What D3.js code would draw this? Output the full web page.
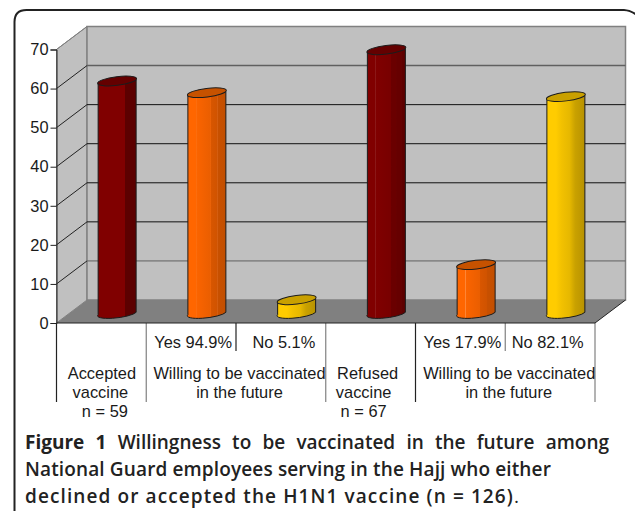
<!DOCTYPE html>
<html lang="en">

<head>
    <meta charset="UTF-8">
    <title>Figure 1</title>
    <script src="https://d3js.org/d3.v7.min.js"></script>
    <style type="text/css">
        body {
            margin: 0;
            background: #fff;
        }

        svg {
            display: block;
        }

        .lbl {
            font-family: "Liberation Sans", Arial, sans-serif;
            font-size: 16.4px;
            fill: #1a1a1a;
            text-anchor: middle;
        }

        .caption {
            font-family: "Open Sans", sans-serif;
            font-size: 19px;
            fill: #222;
        }
    </style>
</head>

<body>
    <div id="graph"></div>
</body>
<script>
    // values
    const categories = ["Accepted", "Yes", "No", "Refused", "Yes2", "No2"];
    const counts = [59, 56, 3, 67, 12, 55];
    const tickValues = [0, 10, 20, 30, 40, 50, 60, 70];
    const barKinds = ["red", "orange", "yellow", "red", "orange", "yellow"];

    const answerLabels = ["Yes 94.9%", "No 5.1%", "Yes 17.9%", "No 82.1%"];
    const answerCats = ["Yes", "No", "Yes2", "No2"];
    const groupLines = ["Willing to be vaccinated", "in the future"];
    const acceptedLines = ["Accepted", "vaccine", "n = 59"];
    const refusedLines = ["Refused", "vaccine", "n = 67"];
    const captionBold = "Figure 1";
    const captionLines = [
        "Willingness to be vaccinated in the future among",
        "National Guard employees serving in the Hajj who either",
        "declined or accepted the H1N1 vaccine (n = 126)"
    ];

    const width = 635, height = 511;
    const depthX = 30.5, depthY = 23;

    const svg = d3.select("#graph").append("svg")
        .attr("width", width)
        .attr("height", height);

    // outer frame, only left/top are visible, the rest runs off the page
    svg.append("path")
        .attr("d", "M14.5,520 V22 Q14.5,10 26.5,10 H624 Q632,10 640,18")
        .attr("fill", "none")
        .attr("stroke", "#222")
        .attr("stroke-width", 2);

    const xscale = d3.scaleBand().domain(categories).range([56.5, 595]);
    const yscale = d3.scaleLinear().domain([0, 70]).range([323, 49.5]);

    const x0 = xscale.range()[0], x1 = xscale.range()[1];
    const y0 = yscale(0), yTop = yscale(70);

    // walls and floor
    svg.append("polygon")
        .attr("points", [[x0, y0], [x0, yTop], [x0 + depthX, yTop - depthY], [x0 + depthX, y0 - depthY]].join(" "))
        .attr("fill", "#c0c0c0")
        .attr("stroke", "#808080");
    svg.append("rect")
        .attr("x", x0 + depthX)
        .attr("y", yTop - depthY)
        .attr("width", x1 - x0)
        .attr("height", y0 - yTop)
        .attr("fill", "#c0c0c0")
        .attr("stroke", "#808080")
        .attr("stroke-width", 1.5);
    svg.append("polygon")
        .attr("points", [[x0, y0], [x0 + depthX, y0 - depthY], [x1 + depthX, y0 - depthY], [x1, y0]].join(" "))
        .attr("fill", "#808080");

    // grid
    const grid = svg.selectAll(".grid")
        .data(tickValues.filter(d => d > 0 && d < 70))
        .enter().append("g")
        .attr("class", "grid");
    grid.append("line")
        .attr("x1", x0)
        .attr("x2", x0 + depthX)
        .attr("y1", d => yscale(d))
        .attr("y2", d => yscale(d) - depthY)
        .attr("stroke", "#222");
    grid.append("line")
        .attr("x1", x0 + depthX)
        .attr("x2", x1 + depthX)
        .attr("y1", d => yscale(d) - depthY)
        .attr("y2", d => yscale(d) - depthY)
        .attr("stroke", d => (d == 60 || d == 10) ? "#606060" : "#111")
        .attr("stroke-width", d => d == 60 ? 1.6 : 1);

    svg.append("line")
        .attr("x1", x0).attr("x2", x0 + depthX)
        .attr("y1", yTop).attr("y2", yTop - depthY)
        .attr("stroke", "#808080");

    // y axis
    const y_axis = d3.axisLeft(yscale).tickValues(tickValues).tickSize(6).tickPadding(2);
    const yG = svg.append("g")
        .attr("transform", "translate(" + x0 + ",0)")
        .call(y_axis);
    yG.select(".domain").attr("stroke", "#222");
    yG.selectAll(".tick line").attr("stroke", "#222");
    yG.selectAll(".tick text")
        .attr("font-family", "'Liberation Sans', Arial, sans-serif")
        .attr("font-size", 16.4)
        .attr("fill", "#1a1a1a");

    // cylinders, the hard stops are the facets of the original 3d bars
    const barColors = {
        red: { top: "#640000", stops: [["#800000", 0], ["#800000", .72], ["#5c0000", .72], ["#5c0000", 1]] },
        redFacet: { top: "#640000", stops: [["#800000", 0], ["#800000", .22], ["#963030", .23], ["#800000", .24], ["#780000", .62], ["#963030", .63], ["#6a0000", .64], ["#6a0000", .75], ["#8a2020", .76], ["#660000", .77], ["#660000", .88], ["#8a2020", .89], ["#600000", .9], ["#5c0000", 1]] },
        orange: { top: "#c65200", stops: [["#ff6600", 0], ["#ff6600", .22], ["#ff8a3c", .23], ["#fb6400", .24], ["#ea5e00", .6], ["#f08040", .61], ["#d85600", .62], ["#d05300", .78], ["#e07a3c", .79], ["#c85000", .8], ["#c24f00", 1]] },
        yellow: { top: "#c9a000", stops: [["#ffcc00", 0], ["#ffcc00", .25], ["#f2c100", .4], ["#e6b800", .6], ["#c9a100", .75], ["#c29b00", .85], ["#b89200", 1]] }
    };
    const defs = svg.append("defs");
    Object.keys(barColors).forEach(k => {
        const g = defs.append("linearGradient").attr("id", "grad-" + k);
        barColors[k].stops.forEach(s => {
            g.append("stop").attr("offset", s[1]).attr("stop-color", s[0]);
        });
    });

    const barW = 38, rx = 19.6, ry = 4.3, tilt = -7;
    const bars = svg.selectAll(".bar")
        .data(categories.map((c, i) => ({ cat: c, v: counts[i], kind: c == "Refused" ? "redFacet" : barKinds[i] })))
        .enter().append("g")
        .attr("class", "bar")
        .attr("transform", d => "translate(" + (xscale(d.cat) + xscale.bandwidth() / 2 + depthX / 2 + 0.5) + ",0)");

    bars.append("path")
        .attr("d", d => {
            const top = yscale(d.v) - depthY / 2;
            const bot = y0 - depthY / 2 + 2;
            const r = barW / 2;
            return "M" + (-r) + "," + (top + 1.2) + " L" + (-r) + "," + (bot + 1.2) +
                " A" + rx + "," + ry + " " + tilt + " 0 0 " + r + "," + (bot - 1.2) +
                " L" + r + "," + (top - 1.2) + " Z";
        })
        .attr("fill", d => "url(#grad-" + d.kind + ")")
        .attr("stroke", "#1c1c1c")
        .attr("stroke-width", 1);
    bars.append("ellipse")
        .attr("rx", rx)
        .attr("ry", ry)
        .attr("transform", d => "translate(0," + (yscale(d.v) - depthY / 2) + ") rotate(" + tilt + ")")
        .attr("fill", d => barColors[d.kind].top)
        .attr("stroke", "#1c1c1c")
        .attr("stroke-width", 1);

    // table under the chart
    const bw = xscale.bandwidth();
    const seps = [
        [x0, 402, "#222"],
        [xscale("Yes"), 402, "#808080"],
        [xscale("No"), 351, "#222"],
        [xscale("Refused"), 402, "#808080"],
        [xscale("Yes2"), 402, "#222"],
        [xscale("No2"), 351, "#808080"],
        [x1, 402, "#808080"]
    ];
    svg.selectAll(".sep")
        .data(seps)
        .enter().append("line")
        .attr("class", "sep")
        .attr("x1", d => d[0]).attr("x2", d => d[0])
        .attr("y1", y0).attr("y2", d => d[1])
        .attr("stroke", d => d[2])
        .attr("stroke-width", 1.2);
    svg.append("line")
        .attr("x1", x0).attr("x2", x1)
        .attr("y1", y0).attr("y2", y0)
        .attr("stroke", "#222");
    svg.append("line")
        .attr("x1", x1).attr("x2", x1 + depthX)
        .attr("y1", y0).attr("y2", y0 - depthY)
        .attr("stroke", "#222");

    // the labels in the original were placed by hand, so small nudges
    const answerNudge = [2, 3, 2, -2.5];
    svg.selectAll(".answer")
        .data(answerLabels)
        .enter().append("text")
        .attr("class", "lbl answer")
        .attr("x", (d, i) => xscale(answerCats[i]) + bw / 2 + answerNudge[i])
        .attr("y", 347.5)
        .text(d => d);

    const lineYs = [378.5, 398, 416.5];
    function block(lines, x, nudge) {
        lines.forEach((t, i) => {
            svg.append("text").attr("class", "lbl")
                .attr("x", x + nudge[i])
                .attr("y", lineYs[i])
                .text(t);
        });
    }
    block(acceptedLines, xscale("Accepted") + bw / 2, [0.5, -1, 3.5]);
    block(refusedLines, xscale("Refused") + bw / 2, [-3, -7, -7]);
    block(groupLines, xscale("No"), [3.5, 3.5]);
    block(groupLines, xscale("No2"), [4, 3.5]);

    // caption, each line squeezed out to the width it has in the original
    const capYs = [449, 476, 503];
    const capWidths = [584, 526, 495];
    captionLines.forEach((t, i) => {
        const txt = svg.append("text").attr("class", "caption")
            .attr("x", 25)
            .attr("y", capYs[i]);
        if (i == 0) {
            txt.append("tspan").attr("font-weight", 700).text(captionBold + " ");
        }
        txt.append("tspan").attr("font-weight", 600).text(t);
        if (i == 2) {
            txt.append("tspan").attr("font-weight", 400).text(".");
        }
        const len = txt.node().getComputedTextLength();
        if (i == 0) {
            // first line is justified in the original, the gaps take the slack
            txt.attr("word-spacing", (capWidths[i] - len) / (txt.text().split(" ").length - 1));
        } else {
            txt.attr("letter-spacing", (capWidths[i] - len) / txt.text().length);
        }
    });
</script>

</html>
